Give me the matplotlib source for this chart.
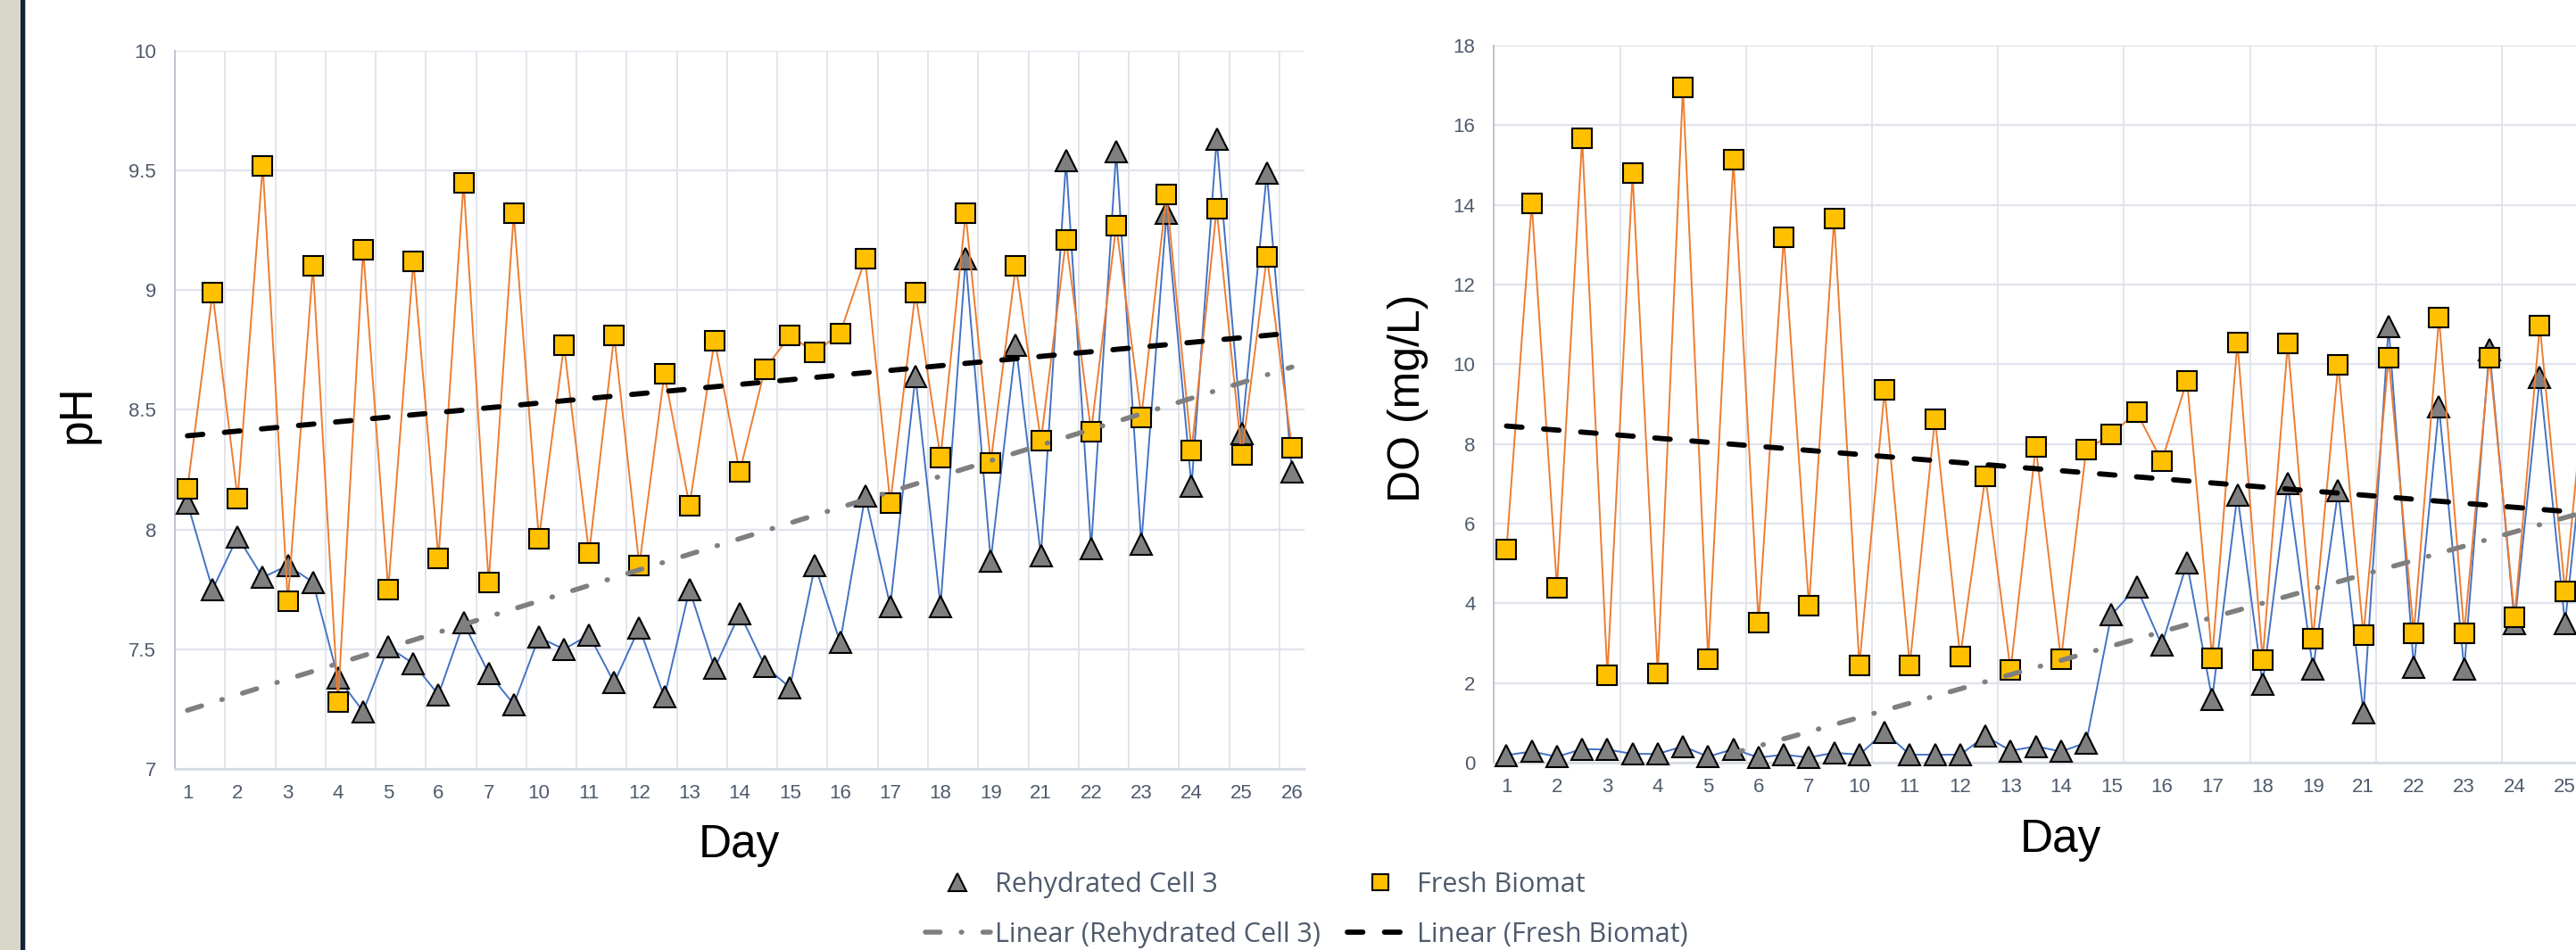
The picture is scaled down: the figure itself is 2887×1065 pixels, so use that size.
import numpy as np
import matplotlib.pyplot as plt
from matplotlib.lines import Line2D
from matplotlib.patches import Rectangle
from matplotlib.font_manager import FontProperties

plt.rcParams['lines.scale_dashes'] = False
plt.rcParams['font.family'] = ['Liberation Sans', 'DejaVu Sans']

#=============== data ===============
day_labels = ['1', '2', '3', '4', '5', '6', '7', '10', '11', '12', '13', '14',
              '15', '16', '17', '18', '19', '21', '22', '23', '24', '25', '26']

ph_rehydrated = [8.11, 7.75, 7.97, 7.80, 7.85, 7.78, 7.38, 7.24, 7.51, 7.44,
                 7.31, 7.61, 7.40, 7.27, 7.55, 7.50, 7.56, 7.36, 7.59, 7.30,
                 7.75, 7.42, 7.65, 7.43, 7.34, 7.85, 7.53, 8.14, 7.68, 8.64,
                 7.68, 9.13, 7.87, 8.77, 7.89, 9.54, 7.92, 9.58, 7.94, 9.32,
                 8.18, 9.63, 8.40, 9.49, 8.24]
ph_fresh = [8.17, 8.99, 8.13, 9.52, 7.70, 9.10, 7.28, 9.17, 7.75, 9.12,
            7.88, 9.45, 7.78, 9.32, 7.96, 8.77, 7.90, 8.81, 7.85, 8.65,
            8.10, 8.79, 8.24, 8.67, 8.81, 8.74, 8.82, 9.13, 8.11, 8.99,
            8.30, 9.32, 8.28, 9.10, 8.37, 9.21, 8.41, 9.27, 8.47, 9.40,
            8.33, 9.34, 8.31, 9.14, 8.34]

do_rehydrated = [0.19, 0.28, 0.15, 0.34, 0.33, 0.22, 0.22, 0.41, 0.15, 0.34,
                 0.13, 0.20, 0.13, 0.25, 0.20, 0.77, 0.20, 0.20, 0.20, 0.67,
                 0.30, 0.41, 0.28, 0.50, 3.71, 4.40, 2.95, 5.01, 1.60, 6.72,
                 1.97, 7.00, 2.35, 6.82, 1.25, 10.95, 2.39, 8.93, 2.35, 10.37,
                 3.49, 9.67, 3.49, 9.50, 3.60]
do_fresh = [5.36, 14.04, 4.39, 15.67, 2.20, 14.79, 2.25, 16.95, 2.59, 15.14,
            3.51, 13.19, 3.93, 13.66, 2.43, 9.35, 2.44, 8.63, 2.66, 7.18,
            2.32, 7.93, 2.59, 7.86, 8.24, 8.80, 7.57, 9.59, 2.63, 10.55,
            2.57, 10.52, 3.12, 9.98, 3.20, 10.16, 3.24, 11.17, 3.25, 10.17,
            3.66, 10.97, 4.29, 10.80, 4.20]

#=============== styles ===============
BLUE = '#4472C4'
ORANGE = '#ED7D31'
GREY = '#7F7F7F'
GOLD = '#FFC000'
GRID = '#DFE3EB'
SPINE = '#B7C0CF'
TICK = '#4F5B6D'

W, H = 2887, 1065
fig = plt.figure(figsize=(W / 100, H / 100), dpi=100)

# slide border strip on the left
fig.add_artist(Rectangle((0, 0), 22.5 / W, 1, transform=fig.transFigure,
                         color='#D8D6C8', lw=0))
fig.add_artist(Rectangle((23 / W, 0), 5 / W, 1, transform=fig.transFigure,
                         color='#10233A', lw=0))
fig.add_artist(Rectangle((28 / W, 0), 1.2 / W, 1, transform=fig.transFigure,
                         color='#AEBCCA', lw=0))

gray_trend = dict(color=GREY, lw=4.0, dashes=(12, 17, 0.5, 17),
                  dash_capstyle='round', zorder=6)
black_trend = dict(color='black', lw=4.2, dashes=(12.5, 17.5),
                   dash_capstyle='round', zorder=7)


def draw_panel(ax, rehyd, fresh, ylim, ystep, grid_every, yfmt):
    x = np.arange(1, len(rehyd) + 1)
    ax.plot(x, rehyd, color=BLUE, lw=1.4, marker='^', ms=17, mfc=GREY,
            mec='black', mew=1.5, clip_on=False, zorder=3)
    ax.plot(x, fresh, color=ORANGE, lw=1.4, marker='s', ms=15.5, mfc=GOLD,
            mec='black', mew=1.5, clip_on=False, zorder=4)
    ends = x[[0, -1]]
    k, b = np.polyfit(x, rehyd, 1)
    ax.plot(ends, k * ends + b, **gray_trend)
    k, b = np.polyfit(x, fresh, 1)
    ax.plot(ends, k * ends + b, **black_trend)

    ax.set_xlim(0.5, len(rehyd) + 0.5)
    ax.set_ylim(*ylim)
    ax.set_xticks(x[::2])
    ax.set_xticklabels(day_labels[:len(x[::2])])
    ax.set_xticks(np.arange(0.5, len(rehyd), grid_every), minor=True)
    yt = np.arange(ylim[0], ylim[1] + ystep / 2, ystep)
    ax.set_yticks(yt)
    ax.set_yticklabels([yfmt(v) for v in yt])
    ax.grid(True, which='major', axis='y', color=GRID, lw=1.6, zorder=0)
    ax.grid(True, which='minor', axis='x', color=GRID, lw=1.3, zorder=0)
    ax.set_axisbelow(True)
    for s in ['top', 'right']:
        ax.spines[s].set_visible(False)
    ax.spines['left'].set_color(SPINE)
    ax.spines['left'].set_linewidth(1.3)
    ax.spines['bottom'].set_color('#D5DAE3')
    ax.spines['bottom'].set_linewidth(1.8)
    ax.tick_params(which='both', length=0, labelsize=16, labelcolor=TICK)
    ax.tick_params(axis='x', pad=12)
    ax.tick_params(axis='y', pad=15)


ax1 = fig.add_axes([196 / W, (H - 862) / H, 1266 / W, 805 / H])
draw_panel(ax1, ph_rehydrated, ph_fresh, (7, 10), 0.5, 2,
           lambda v: ('%g' % v))

ax2 = fig.add_axes([1674.3 / W, (H - 855) / H, 1271 / W, 804 / H])
draw_panel(ax2, do_rehydrated, do_fresh, (0, 18), 2, 5,
           lambda v: ('%d' % v))

# axis titles
fig.text(87 / W, (H - 464) / H, 'pH', rotation=90, ha='center', va='center',
         fontsize=37, color='black')
fig.text(828 / W, (H - 947) / H, 'Day', ha='center', va='center',
         fontsize=37, color='black')
fig.text(1578 / W, (H - 446) / H, 'DO (mg/L)', rotation=90, ha='center',
         va='center', fontsize=36, color='black')
fig.text(2309 / W, (H - 942) / H, 'Day', ha='center', va='center',
         fontsize=37, color='black')

# legend
h_tri = Line2D([], [], ls='none', marker='^', ms=14, mfc=GREY, mec='black', mew=1.5)
h_sq = Line2D([], [], ls='none', marker='s', ms=12.5, mfc=GOLD, mec='black', mew=1.5)
h_gray = Line2D([], [], **gray_trend)
h_black = Line2D([], [], **black_trend)
fig.legend([h_tri, h_gray, h_sq, h_black],
           ['Rehydrated Cell 3', 'Linear (Rehydrated Cell 3)',
            'Fresh Biomat', 'Linear (Fresh Biomat)'],
           ncol=2, loc='upper left', bbox_to_anchor=(1036.7 / W, (H - 977) / H),
           frameon=False, prop=FontProperties(family='Open Sans', size=22),
           labelcolor=TICK, handlelength=2.39, handletextpad=0.16,
           columnspacing=1.0, labelspacing=0.85, borderpad=0, borderaxespad=0)

fig.savefig('out.png', dpi=100)
